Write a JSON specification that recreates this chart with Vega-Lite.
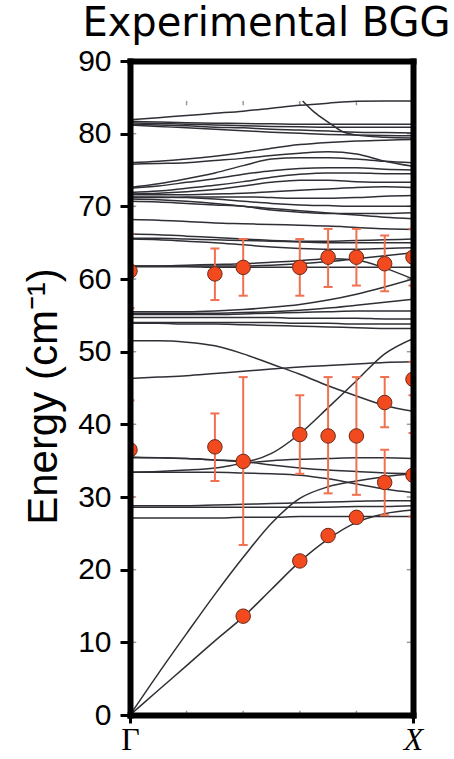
{
  "$schema": "https://vega.github.io/schema/vega-lite/v6.json",
  "width": 283,
  "height": 654,
  "autosize": "none",
  "padding": {"left": 130, "top": 61, "right": 41, "bottom": 44},
  "title": {
    "text": "Experimental BGG",
    "font": "DejaVu Sans",
    "fontSize": 40,
    "fontWeight": "normal",
    "color": "#000",
    "frame": "group",
    "offset": 14,
    "dy": 12,
    "dx": -5
  },
  "config": {
    "view": {"stroke": null},
    "font": "Liberation Sans"
  },
  "resolve": {"axis": {"x": "independent", "y": "independent"}},
  "datasets": {
    "bands": [
      {"b":"b01","k":0,"e":81.9},{"b":"b01","k":0.1,"e":82.2},{"b":"b01","k":0.2,"e":82.5},{"b":"b01","k":0.3,"e":82.8},{"b":"b01","k":0.4,"e":83.1},{"b":"b01","k":0.5,"e":83.5},{"b":"b01","k":0.6,"e":83.9},{"b":"b01","k":0.7,"e":84.2},{"b":"b01","k":0.8,"e":84.45},{"b":"b01","k":0.9,"e":84.5},{"b":"b01","k":1,"e":84.5},
      {"b":"b02","k":0.61,"e":84.5},{"b":"b02","k":0.65,"e":83.0},{"b":"b02","k":0.7,"e":81.6},{"b":"b02","k":0.75,"e":80.3},{"b":"b02","k":0.8,"e":79.8},{"b":"b02","k":0.9,"e":79.5},{"b":"b02","k":1,"e":79.4},
      {"b":"b03","k":0,"e":81.7},{"b":"b03","k":0.1,"e":81.6},{"b":"b03","k":0.2,"e":81.5},{"b":"b03","k":0.3,"e":81.45},{"b":"b03","k":0.4,"e":81.4},{"b":"b03","k":0.5,"e":81.35},{"b":"b03","k":0.6,"e":81.3},{"b":"b03","k":0.7,"e":81.3},{"b":"b03","k":0.8,"e":81.3},{"b":"b03","k":0.9,"e":81.3},{"b":"b03","k":1,"e":81.3},
      {"b":"b04","k":0,"e":81.5},{"b":"b04","k":0.1,"e":81.4},{"b":"b04","k":0.2,"e":81.3},{"b":"b04","k":0.3,"e":81.2},{"b":"b04","k":0.4,"e":81.1},{"b":"b04","k":0.5,"e":81.0},{"b":"b04","k":0.6,"e":80.95},{"b":"b04","k":0.7,"e":80.9},{"b":"b04","k":0.8,"e":80.9},{"b":"b04","k":0.9,"e":80.9},{"b":"b04","k":1,"e":80.9},
      {"b":"b05","k":0,"e":81.3},{"b":"b05","k":0.1,"e":81.2},{"b":"b05","k":0.2,"e":81.1},{"b":"b05","k":0.3,"e":80.9},{"b":"b05","k":0.4,"e":80.8},{"b":"b05","k":0.5,"e":80.6},{"b":"b05","k":0.6,"e":80.5},{"b":"b05","k":0.7,"e":80.35},{"b":"b05","k":0.8,"e":80.2},{"b":"b05","k":0.9,"e":80.15},{"b":"b05","k":1,"e":80.1},
      {"b":"b06","k":0,"e":81.2},{"b":"b06","k":0.1,"e":81.0},{"b":"b06","k":0.2,"e":80.8},{"b":"b06","k":0.3,"e":80.6},{"b":"b06","k":0.4,"e":80.4},{"b":"b06","k":0.5,"e":80.2},{"b":"b06","k":0.6,"e":80.05},{"b":"b06","k":0.7,"e":79.9},{"b":"b06","k":0.8,"e":79.8},{"b":"b06","k":0.9,"e":79.75},{"b":"b06","k":1,"e":79.7},
      {"b":"b07","k":0,"e":76.0},{"b":"b07","k":0.1,"e":76.2},{"b":"b07","k":0.2,"e":76.5},{"b":"b07","k":0.3,"e":76.9},{"b":"b07","k":0.4,"e":77.4},{"b":"b07","k":0.5,"e":78.0},{"b":"b07","k":0.6,"e":78.5},{"b":"b07","k":0.7,"e":78.8},{"b":"b07","k":0.8,"e":79.0},{"b":"b07","k":0.9,"e":79.1},{"b":"b07","k":1,"e":79.2},
      {"b":"b08","k":0,"e":75.8},{"b":"b08","k":0.1,"e":75.9},{"b":"b08","k":0.2,"e":76.0},{"b":"b08","k":0.3,"e":76.3},{"b":"b08","k":0.4,"e":76.6},{"b":"b08","k":0.5,"e":77.0},{"b":"b08","k":0.6,"e":77.3},{"b":"b08","k":0.7,"e":77.5},{"b":"b08","k":0.8,"e":77.2},{"b":"b08","k":0.9,"e":76.2},{"b":"b08","k":1,"e":75.5},
      {"b":"b09","k":0,"e":72.6},{"b":"b09","k":0.1,"e":73.1},{"b":"b09","k":0.2,"e":73.8},{"b":"b09","k":0.3,"e":74.6},{"b":"b09","k":0.4,"e":75.6},{"b":"b09","k":0.5,"e":76.5},{"b":"b09","k":0.6,"e":76.7},{"b":"b09","k":0.7,"e":76.7},{"b":"b09","k":0.8,"e":76.5},{"b":"b09","k":0.9,"e":76.2},{"b":"b09","k":1,"e":76.0},
      {"b":"b10","k":0,"e":72.5},{"b":"b10","k":0.1,"e":72.8},{"b":"b10","k":0.2,"e":73.3},{"b":"b10","k":0.3,"e":73.8},{"b":"b10","k":0.4,"e":74.4},{"b":"b10","k":0.5,"e":74.9},{"b":"b10","k":0.6,"e":75.2},{"b":"b10","k":0.7,"e":75.3},{"b":"b10","k":0.8,"e":75.3},{"b":"b10","k":0.9,"e":75.1},{"b":"b10","k":1,"e":75.0},
      {"b":"b11","k":0,"e":71.9},{"b":"b11","k":0.1,"e":72.1},{"b":"b11","k":0.2,"e":72.5},{"b":"b11","k":0.3,"e":72.9},{"b":"b11","k":0.4,"e":73.4},{"b":"b11","k":0.5,"e":74.0},{"b":"b11","k":0.6,"e":74.4},{"b":"b11","k":0.7,"e":74.6},{"b":"b11","k":0.8,"e":74.6},{"b":"b11","k":0.9,"e":74.5},{"b":"b11","k":1,"e":74.5},
      {"b":"b12","k":0,"e":71.7},{"b":"b12","k":0.1,"e":71.8},{"b":"b12","k":0.2,"e":72.0},{"b":"b12","k":0.3,"e":72.3},{"b":"b12","k":0.4,"e":72.8},{"b":"b12","k":0.5,"e":73.3},{"b":"b12","k":0.6,"e":73.6},{"b":"b12","k":0.7,"e":73.6},{"b":"b12","k":0.8,"e":73.4},{"b":"b12","k":0.9,"e":73.3},{"b":"b12","k":1,"e":73.3},
      {"b":"b13","k":0,"e":71.6},{"b":"b13","k":0.1,"e":71.6},{"b":"b13","k":0.2,"e":71.6},{"b":"b13","k":0.3,"e":71.7},{"b":"b13","k":0.4,"e":71.8},{"b":"b13","k":0.5,"e":72.0},{"b":"b13","k":0.6,"e":72.2},{"b":"b13","k":0.7,"e":72.4},{"b":"b13","k":0.8,"e":72.6},{"b":"b13","k":0.9,"e":72.7},{"b":"b13","k":1,"e":72.6},
      {"b":"b14","k":0,"e":71.3},{"b":"b14","k":0.1,"e":71.3},{"b":"b14","k":0.2,"e":71.2},{"b":"b14","k":0.3,"e":71.0},{"b":"b14","k":0.4,"e":70.7},{"b":"b14","k":0.5,"e":70.4},{"b":"b14","k":0.6,"e":70.2},{"b":"b14","k":0.7,"e":70.1},{"b":"b14","k":0.8,"e":70.0},{"b":"b14","k":0.9,"e":70.0},{"b":"b14","k":1,"e":70.0},
      {"b":"b15","k":0,"e":71.0},{"b":"b15","k":0.1,"e":70.9},{"b":"b15","k":0.2,"e":70.7},{"b":"b15","k":0.3,"e":70.4},{"b":"b15","k":0.4,"e":70.0},{"b":"b15","k":0.5,"e":69.5},{"b":"b15","k":0.6,"e":69.2},{"b":"b15","k":0.7,"e":69.0},{"b":"b15","k":0.8,"e":69.0},{"b":"b15","k":0.9,"e":69.0},{"b":"b15","k":1,"e":69.1},
      {"b":"b16","k":0,"e":71.2},{"b":"b16","k":0.1,"e":71.2},{"b":"b16","k":0.2,"e":71.3},{"b":"b16","k":0.3,"e":71.3},{"b":"b16","k":0.4,"e":71.3},{"b":"b16","k":0.5,"e":71.2},{"b":"b16","k":0.6,"e":71.1},{"b":"b16","k":0.7,"e":71.1},{"b":"b16","k":0.8,"e":71.2},{"b":"b16","k":0.9,"e":71.4},{"b":"b16","k":1,"e":71.5},
      {"b":"b17","k":0,"e":70.7},{"b":"b17","k":0.1,"e":70.6},{"b":"b17","k":0.2,"e":70.4},{"b":"b17","k":0.3,"e":70.2},{"b":"b17","k":0.4,"e":70.0},{"b":"b17","k":0.5,"e":69.7},{"b":"b17","k":0.6,"e":69.4},{"b":"b17","k":0.7,"e":69.1},{"b":"b17","k":0.8,"e":68.8},{"b":"b17","k":0.9,"e":68.5},{"b":"b17","k":1,"e":68.3},
      {"b":"b18","k":0,"e":68.2},{"b":"b18","k":0.1,"e":68.1},{"b":"b18","k":0.2,"e":67.9},{"b":"b18","k":0.3,"e":67.7},{"b":"b18","k":0.4,"e":67.6},{"b":"b18","k":0.5,"e":67.5},{"b":"b18","k":0.6,"e":67.4},{"b":"b18","k":0.7,"e":67.3},{"b":"b18","k":0.8,"e":67.1},{"b":"b18","k":0.9,"e":66.9},{"b":"b18","k":1,"e":66.8},
      {"b":"b19","k":0,"e":66.2},{"b":"b19","k":0.1,"e":66.1},{"b":"b19","k":0.2,"e":65.9},{"b":"b19","k":0.3,"e":65.7},{"b":"b19","k":0.4,"e":65.5},{"b":"b19","k":0.5,"e":65.3},{"b":"b19","k":0.6,"e":65.2},{"b":"b19","k":0.7,"e":65.2},{"b":"b19","k":0.8,"e":65.3},{"b":"b19","k":0.9,"e":65.4},{"b":"b19","k":1,"e":65.5},
      {"b":"b20","k":0,"e":65.5},{"b":"b20","k":0.1,"e":65.4},{"b":"b20","k":0.2,"e":65.2},{"b":"b20","k":0.3,"e":65.0},{"b":"b20","k":0.4,"e":64.7},{"b":"b20","k":0.5,"e":64.4},{"b":"b20","k":0.6,"e":64.2},{"b":"b20","k":0.7,"e":64.1},{"b":"b20","k":0.8,"e":64.1},{"b":"b20","k":0.9,"e":64.2},{"b":"b20","k":1,"e":64.3},
      {"b":"b21","k":0,"e":61.8},{"b":"b21","k":0.1,"e":61.8},{"b":"b21","k":0.2,"e":61.8},{"b":"b21","k":0.3,"e":61.8},{"b":"b21","k":0.4,"e":61.8},{"b":"b21","k":0.5,"e":61.9},{"b":"b21","k":0.6,"e":62.1},{"b":"b21","k":0.7,"e":62.4},{"b":"b21","k":0.8,"e":62.8},{"b":"b21","k":0.9,"e":63.2},{"b":"b21","k":1,"e":63.6},
      {"b":"b22","k":0,"e":61.8},{"b":"b22","k":0.1,"e":61.8},{"b":"b22","k":0.2,"e":61.9},{"b":"b22","k":0.3,"e":62.0},{"b":"b22","k":0.4,"e":62.1},{"b":"b22","k":0.5,"e":62.3},{"b":"b22","k":0.6,"e":62.5},{"b":"b22","k":0.7,"e":62.8},{"b":"b22","k":0.8,"e":62.6},{"b":"b22","k":0.9,"e":61.5},{"b":"b22","k":1,"e":60.0},
      {"b":"b23","k":0,"e":61.7},{"b":"b23","k":0.1,"e":61.7},{"b":"b23","k":0.2,"e":61.7},{"b":"b23","k":0.3,"e":61.6},{"b":"b23","k":0.4,"e":61.6},{"b":"b23","k":0.5,"e":61.6},{"b":"b23","k":0.6,"e":61.6},{"b":"b23","k":0.7,"e":61.6},{"b":"b23","k":0.8,"e":61.6},{"b":"b23","k":0.9,"e":61.6},{"b":"b23","k":1,"e":61.6},
      {"b":"b24","k":0,"e":65.6},{"b":"b24","k":0.1,"e":65.6},{"b":"b24","k":0.2,"e":65.5},{"b":"b24","k":0.3,"e":65.4},{"b":"b24","k":0.4,"e":65.3},{"b":"b24","k":0.5,"e":65.2},{"b":"b24","k":0.6,"e":65.1},{"b":"b24","k":0.7,"e":65.0},{"b":"b24","k":0.8,"e":65.0},{"b":"b24","k":0.9,"e":65.0},{"b":"b24","k":1,"e":65.0},
      {"b":"b25","k":0,"e":55.5},{"b":"b25","k":0.1,"e":55.5},{"b":"b25","k":0.2,"e":55.5},{"b":"b25","k":0.3,"e":55.6},{"b":"b25","k":0.4,"e":55.8},{"b":"b25","k":0.5,"e":56.1},{"b":"b25","k":0.6,"e":56.5},{"b":"b25","k":0.7,"e":57.1},{"b":"b25","k":0.8,"e":57.9},{"b":"b25","k":0.9,"e":58.9},{"b":"b25","k":1,"e":60.0},
      {"b":"b26","k":0,"e":55.3},{"b":"b26","k":0.1,"e":55.3},{"b":"b26","k":0.2,"e":55.3},{"b":"b26","k":0.3,"e":55.3},{"b":"b26","k":0.4,"e":55.4},{"b":"b26","k":0.5,"e":55.5},{"b":"b26","k":0.6,"e":55.7},{"b":"b26","k":0.7,"e":56.0},{"b":"b26","k":0.8,"e":56.4},{"b":"b26","k":0.9,"e":56.8},{"b":"b26","k":1,"e":57.2},
      {"b":"b27","k":0,"e":55.1},{"b":"b27","k":0.1,"e":55.1},{"b":"b27","k":0.2,"e":55.1},{"b":"b27","k":0.3,"e":55.1},{"b":"b27","k":0.4,"e":55.2},{"b":"b27","k":0.5,"e":55.3},{"b":"b27","k":0.6,"e":55.4},{"b":"b27","k":0.7,"e":55.5},{"b":"b27","k":0.8,"e":55.6},{"b":"b27","k":0.9,"e":55.6},{"b":"b27","k":1,"e":55.6},
      {"b":"b28","k":0,"e":54.7},{"b":"b28","k":0.1,"e":54.7},{"b":"b28","k":0.2,"e":54.7},{"b":"b28","k":0.3,"e":54.7},{"b":"b28","k":0.4,"e":54.7},{"b":"b28","k":0.5,"e":54.7},{"b":"b28","k":0.6,"e":54.6},{"b":"b28","k":0.7,"e":54.6},{"b":"b28","k":0.8,"e":54.6},{"b":"b28","k":0.9,"e":54.5},{"b":"b28","k":1,"e":54.5},
      {"b":"b29","k":0,"e":54.0},{"b":"b29","k":0.1,"e":54.0},{"b":"b29","k":0.2,"e":54.0},{"b":"b29","k":0.3,"e":54.0},{"b":"b29","k":0.4,"e":54.0},{"b":"b29","k":0.5,"e":54.0},{"b":"b29","k":0.6,"e":53.9},{"b":"b29","k":0.7,"e":53.9},{"b":"b29","k":0.8,"e":53.8},{"b":"b29","k":0.9,"e":53.8},{"b":"b29","k":1,"e":53.8},
      {"b":"b30","k":0,"e":53.9},{"b":"b30","k":0.1,"e":53.9},{"b":"b30","k":0.2,"e":53.8},{"b":"b30","k":0.3,"e":53.8},{"b":"b30","k":0.4,"e":53.7},{"b":"b30","k":0.5,"e":53.6},{"b":"b30","k":0.6,"e":53.5},{"b":"b30","k":0.7,"e":53.4},{"b":"b30","k":0.8,"e":53.3},{"b":"b30","k":0.9,"e":53.2},{"b":"b30","k":1,"e":53.2},
      {"b":"b31","k":0,"e":51.5},{"b":"b31","k":0.1,"e":51.5},{"b":"b31","k":0.2,"e":51.3},{"b":"b31","k":0.3,"e":50.8},{"b":"b31","k":0.4,"e":49.7},{"b":"b31","k":0.5,"e":48.3},{"b":"b31","k":0.6,"e":46.9},{"b":"b31","k":0.7,"e":45.3},{"b":"b31","k":0.8,"e":43.9},{"b":"b31","k":0.9,"e":42.6},{"b":"b31","k":1,"e":41.8},
      {"b":"b32","k":0,"e":46.3},{"b":"b32","k":0.1,"e":46.5},{"b":"b32","k":0.2,"e":46.7},{"b":"b32","k":0.3,"e":47.0},{"b":"b32","k":0.4,"e":47.3},{"b":"b32","k":0.5,"e":47.6},{"b":"b32","k":0.6,"e":47.9},{"b":"b32","k":0.7,"e":48.1},{"b":"b32","k":0.8,"e":48.3},{"b":"b32","k":0.9,"e":48.5},{"b":"b32","k":1,"e":48.6},
      {"b":"b33","k":0,"e":35.4},{"b":"b33","k":0.1,"e":35.4},{"b":"b33","k":0.2,"e":35.3},{"b":"b33","k":0.3,"e":35.1},{"b":"b33","k":0.4,"e":34.9},{"b":"b33","k":0.5,"e":36.0},{"b":"b33","k":0.6,"e":38.7},{"b":"b33","k":0.7,"e":42.3},{"b":"b33","k":0.8,"e":46.0},{"b":"b33","k":0.9,"e":49.7},{"b":"b33","k":1,"e":51.8},
      {"b":"b34","k":0,"e":35.5},{"b":"b34","k":0.1,"e":35.4},{"b":"b34","k":0.2,"e":35.3},{"b":"b34","k":0.3,"e":35.1},{"b":"b34","k":0.4,"e":34.9},{"b":"b34","k":0.5,"e":34.4},{"b":"b34","k":0.6,"e":34.0},{"b":"b34","k":0.7,"e":33.7},{"b":"b34","k":0.8,"e":33.5},{"b":"b34","k":0.9,"e":33.3},{"b":"b34","k":1,"e":33.2},
      {"b":"b35","k":0,"e":33.4},{"b":"b35","k":0.1,"e":33.5},{"b":"b35","k":0.2,"e":33.7},{"b":"b35","k":0.3,"e":34.0},{"b":"b35","k":0.4,"e":34.6},{"b":"b35","k":0.5,"e":35.0},{"b":"b35","k":0.6,"e":35.2},{"b":"b35","k":0.7,"e":35.3},{"b":"b35","k":0.8,"e":35.4},{"b":"b35","k":0.9,"e":35.4},{"b":"b35","k":1,"e":35.3},
      {"b":"b36","k":0,"e":33.4},{"b":"b36","k":0.1,"e":33.4},{"b":"b36","k":0.2,"e":33.4},{"b":"b36","k":0.3,"e":33.4},{"b":"b36","k":0.4,"e":33.3},{"b":"b36","k":0.5,"e":33.2},{"b":"b36","k":0.6,"e":33.0},{"b":"b36","k":0.7,"e":32.5},{"b":"b36","k":0.8,"e":31.8},{"b":"b36","k":0.9,"e":31.1},{"b":"b36","k":1,"e":30.6},
      {"b":"b37","k":0,"e":28.8},{"b":"b37","k":0.1,"e":28.8},{"b":"b37","k":0.2,"e":28.8},{"b":"b37","k":0.3,"e":28.9},{"b":"b37","k":0.4,"e":29.0},{"b":"b37","k":0.5,"e":29.1},{"b":"b37","k":0.6,"e":29.2},{"b":"b37","k":0.7,"e":29.3},{"b":"b37","k":0.8,"e":29.4},{"b":"b37","k":0.9,"e":29.5},{"b":"b37","k":1,"e":29.5},
      {"b":"b38","k":0,"e":28.6},{"b":"b38","k":0.1,"e":28.6},{"b":"b38","k":0.2,"e":28.6},{"b":"b38","k":0.3,"e":28.6},{"b":"b38","k":0.4,"e":28.6},{"b":"b38","k":0.5,"e":28.6},{"b":"b38","k":0.6,"e":28.6},{"b":"b38","k":0.7,"e":28.6},{"b":"b38","k":0.8,"e":28.7},{"b":"b38","k":0.9,"e":28.7},{"b":"b38","k":1,"e":28.8},
      {"b":"b39","k":0,"e":27.1},{"b":"b39","k":0.1,"e":27.1},{"b":"b39","k":0.2,"e":27.1},{"b":"b39","k":0.3,"e":27.1},{"b":"b39","k":0.4,"e":27.2},{"b":"b39","k":0.5,"e":27.2},{"b":"b39","k":0.6,"e":27.3},{"b":"b39","k":0.7,"e":27.3},{"b":"b39","k":0.8,"e":27.3},{"b":"b39","k":0.9,"e":27.3},{"b":"b39","k":1,"e":27.3},
      {"b":"b40","k":0,"e":0},{"b":"b40","k":0.1,"e":5.7},{"b":"b40","k":0.2,"e":11.2},{"b":"b40","k":0.3,"e":16.6},{"b":"b40","k":0.4,"e":21.7},{"b":"b40","k":0.5,"e":26.4},{"b":"b40","k":0.6,"e":29.8},{"b":"b40","k":0.7,"e":31.4},{"b":"b40","k":0.8,"e":32.2},{"b":"b40","k":0.9,"e":32.8},{"b":"b40","k":1,"e":33.2},
      {"b":"b41","k":0,"e":0},{"b":"b41","k":0.1,"e":3.4},{"b":"b41","k":0.2,"e":6.8},{"b":"b41","k":0.3,"e":10.2},{"b":"b41","k":0.4,"e":13.5},{"b":"b41","k":0.5,"e":17.3},{"b":"b41","k":0.6,"e":21.1},{"b":"b41","k":0.7,"e":24.2},{"b":"b41","k":0.8,"e":26.5},{"b":"b41","k":0.9,"e":27.7},{"b":"b41","k":1,"e":28.2}
    ],
    "obs": [
      {"k":0,"e":61.1,"lo":56.0,"hi":66.2},
      {"k":0.3,"e":60.7,"lo":57.1,"hi":64.2},
      {"k":0.4,"e":61.6,"lo":57.7,"hi":65.5},
      {"k":0.6,"e":61.6,"lo":57.7,"hi":65.5},
      {"k":0.7,"e":63.0,"lo":58.9,"hi":66.9},
      {"k":0.8,"e":63.0,"lo":59.1,"hi":66.9},
      {"k":0.9,"e":62.1,"lo":58.3,"hi":66.0},
      {"k":1,"e":63.0,"lo":59.1,"hi":66.9},
      {"k":0,"e":36.5,"lo":30.0,"hi":43.3},
      {"k":0.3,"e":36.9,"lo":32.2,"hi":41.5},
      {"k":0.4,"e":34.9,"lo":23.4,"hi":46.5},
      {"k":0.6,"e":38.6,"lo":33.2,"hi":44.0},
      {"k":0.7,"e":38.4,"lo":30.5,"hi":46.5},
      {"k":0.8,"e":38.4,"lo":30.3,"hi":46.5},
      {"k":0.9,"e":43.0,"lo":39.6,"hi":46.5},
      {"k":1,"e":46.2,"lo":44.0,"hi":48.6},
      {"k":0.9,"e":32.0,"lo":27.5,"hi":36.5},
      {"k":1,"e":33.0,"lo":27.3,"hi":38.8},
      {"k":0.4,"e":13.6,"lo":null,"hi":null},
      {"k":0.6,"e":21.2,"lo":null,"hi":null},
      {"k":0.7,"e":24.7,"lo":null,"hi":null},
      {"k":0.8,"e":27.2,"lo":null,"hi":null}
    ],
    "frameTicks": [
      {"x1":0,"x2":0.022,"y1":10,"y2":10},{"x1":0,"x2":0.022,"y1":20,"y2":20},{"x1":0,"x2":0.022,"y1":30,"y2":30},{"x1":0,"x2":0.022,"y1":40,"y2":40},
      {"x1":0,"x2":0.022,"y1":50,"y2":50},{"x1":0,"x2":0.022,"y1":60,"y2":60},{"x1":0,"x2":0.022,"y1":70,"y2":70},{"x1":0,"x2":0.022,"y1":80,"y2":80},
      {"x1":0.978,"x2":1,"y1":10,"y2":10},{"x1":0.978,"x2":1,"y1":20,"y2":20},{"x1":0.978,"x2":1,"y1":30,"y2":30},{"x1":0.978,"x2":1,"y1":40,"y2":40},
      {"x1":0.978,"x2":1,"y1":50,"y2":50},{"x1":0.978,"x2":1,"y1":60,"y2":60},{"x1":0.978,"x2":1,"y1":70,"y2":70},{"x1":0.978,"x2":1,"y1":80,"y2":80},
      {"x1":0.2,"x2":0.2,"y1":0,"y2":0.6},{"x1":0.4,"x2":0.4,"y1":0,"y2":0.6},{"x1":0.6,"x2":0.6,"y1":0,"y2":0.6},{"x1":0.8,"x2":0.8,"y1":0,"y2":0.6},
      {"x1":0.2,"x2":0.2,"y1":84.5,"y2":83.9},{"x1":0.4,"x2":0.4,"y1":84.5,"y2":83.9},{"x1":0.6,"x2":0.6,"y1":84.5,"y2":83.9},{"x1":0.8,"x2":0.8,"y1":84.5,"y2":83.9}
    ]
  },
  "layer": [
    {
      "data": {"name": "frameTicks"},
      "mark": {"type": "rule", "color": "#9a9a9a", "strokeWidth": 1.5, "clip": true},
      "encoding": {
        "x": {
          "field": "x1", "type": "quantitative",
          "scale": {"domain": [0, 1], "nice": false},
          "axis": {"orient": "top", "title": null, "labels": false, "ticks": false, "grid": false,
                   "domain": true, "domainColor": "#000", "domainWidth": 6, "domainCap": "square", "zindex": 1}
        },
        "x2": {"field": "x2"},
        "y": {
          "field": "y1", "type": "quantitative",
          "scale": {"domain": [0, 90], "nice": false},
          "axis": {"orient": "right", "title": null, "labels": false, "ticks": false, "grid": false,
                   "domain": true, "domainColor": "#000", "domainWidth": 6, "domainCap": "square", "zindex": 1}
        },
        "y2": {"field": "y2"}
      }
    },
    {
      "data": {"name": "bands"},
      "mark": {"type": "line", "interpolate": "monotone", "color": "#2f2f36", "strokeWidth": 1.5, "clip": true},
      "encoding": {
        "x": {
          "field": "k", "type": "quantitative",
          "axis": {
            "orient": "bottom",
            "title": null,
            "values": [0, 1],
            "labelExpr": "datum.value == 0 ? 'Γ' : 'X'",
            "labelFont": "Liberation Serif",
            "labelFontSize": 32,
            "labelFontStyle": {"condition": {"test": "datum.value == 1", "value": "italic"}, "value": "normal"},
            "labelColor": "#000",
            "labelFlush": false,
            "labelPadding": 1,
            "tickSize": 8,
            "tickWidth": 3,
            "tickColor": "#000",
            "domain": true, "domainColor": "#000", "domainWidth": 6, "domainCap": "square",
            "grid": false,
            "zindex": 1
          }
        },
        "y": {
          "field": "e", "type": "quantitative",
          "axis": {
            "orient": "left",
            "title": "Energy (cm⁻¹)",
            "titleFont": "Liberation Sans",
            "titleFontSize": 42,
            "titleFontWeight": "normal",
            "titleColor": "#000",
            "titlePadding": 12,
            "titleY": 335,
            "values": [0, 10, 20, 30, 40, 50, 60, 70, 80, 90],
            "labelFontSize": 30,
            "labelColor": "#000",
            "labelFlush": false,
            "labelPadding": 9,
            "tickSize": 10,
            "tickWidth": 3,
            "tickColor": "#000",
            "domain": true, "domainColor": "#000", "domainWidth": 6, "domainCap": "square",
            "grid": false,
            "zindex": 1
          }
        },
        "detail": {"field": "b", "type": "nominal"},
        "order": {"field": "k", "type": "quantitative"}
      }
    },
    {
      "data": {"name": "obs"},
      "transform": [{"filter": "datum.lo != null"}],
      "mark": {"type": "rule", "color": "#f0704f", "strokeWidth": 2, "clip": true},
      "encoding": {
        "x": {"field": "k", "type": "quantitative", "axis": null},
        "y": {"field": "lo", "type": "quantitative", "axis": null},
        "y2": {"field": "hi"}
      }
    },
    {
      "data": {"name": "obs"},
      "transform": [{"filter": "datum.lo != null"}],
      "mark": {"type": "tick", "orient": "horizontal", "color": "#f0704f", "size": 9, "thickness": 2, "opacity": 1, "clip": true},
      "encoding": {
        "x": {"field": "k", "type": "quantitative", "axis": null},
        "y": {"field": "lo", "type": "quantitative", "axis": null}
      }
    },
    {
      "data": {"name": "obs"},
      "transform": [{"filter": "datum.lo != null"}],
      "mark": {"type": "tick", "orient": "horizontal", "color": "#f0704f", "size": 9, "thickness": 2, "opacity": 1, "clip": true},
      "encoding": {
        "x": {"field": "k", "type": "quantitative", "axis": null},
        "y": {"field": "hi", "type": "quantitative", "axis": null}
      }
    },
    {
      "data": {"name": "obs"},
      "mark": {"type": "point", "shape": "circle", "filled": true, "fill": "#f2491f", "stroke": "#6b2a1a", "strokeWidth": 1, "size": 210, "opacity": 1, "clip": true},
      "encoding": {
        "x": {"field": "k", "type": "quantitative", "axis": null},
        "y": {"field": "e", "type": "quantitative", "axis": null}
      }
    }
  ]
}
